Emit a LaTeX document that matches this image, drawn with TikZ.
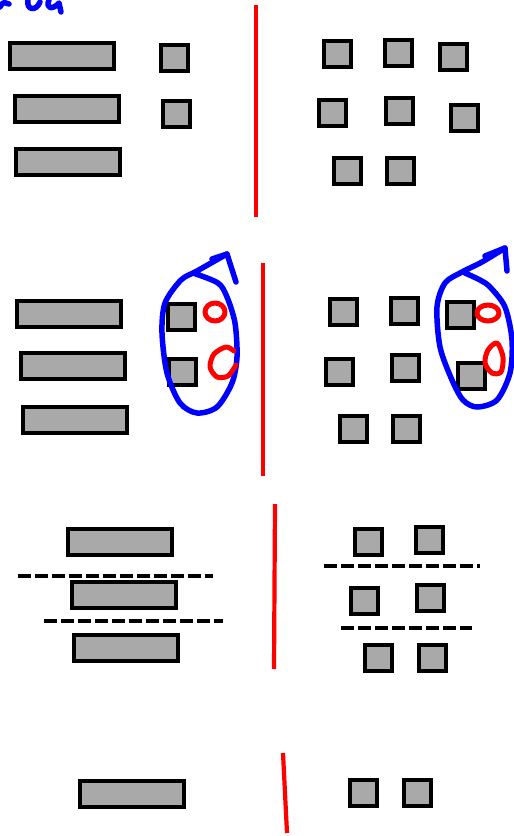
\documentclass[tikz,border=0pt]{standalone}
\usepackage{tikz}
\usetikzlibrary{positioning}
\usepackage{xcolor}
\definecolor{boxgray}{HTML}{A9A9A9}

\begin{document}
\begin{tikzpicture}
      [x=1pt, y=-1pt,
      box style1/.style={draw, line width=4pt, fill=boxgray, minimum width=104pt, minimum height=26pt, inner sep=0pt},
      box style2/.style={draw, line width=4pt, fill=boxgray, minimum width=27pt, minimum height=26pt, inner sep=0pt},
      divider/.style={draw=red, line width=4.2pt},
      cut line/.style={draw, line width=3.8pt, dash pattern=on 13pt off 4pt},
      loop pen/.style={draw=blue, line width=5.5pt, line cap=round, line join=round},
      mark pen/.style={draw=red, line width=5pt, line cap=round, line join=round},
      ]
      \useasboundingbox (0,0) rectangle (514,836);

      % scribble at the top
      \draw[loop pen] (0,7) .. controls (3,2) .. (9,4);
      \draw[loop pen] (28,0) .. controls (26,10) and (36,12) .. (40,2);
      \draw[loop pen] (49,0) .. controls (45,9) and (53,10) .. (59,3) -- (61,12);

      % first row
      \node[box style1] (a1) at (62,56) {};
      \node[box style1] (a2) at (66.5,109) {};
      \node[box style1] (a3) at (68,162) {};
      \node[box style2] (a4) at (174.5,58) {};
      \node[box style2] (a5) at (176,113.5) {};
      \draw[divider] (256,5) -- (256,217);
      \node[box style2] (b1) at (337.5,54) {};
      \node[box style2] (b2) at (398.5,53) {};
      \node[box style2] (b3) at (453.5,57) {};
      \node[box style2] (b4) at (332.5,113) {};
      \node[box style2] (b5) at (399.5,111) {};
      \node[box style2] (b6) at (464.5,118) {};
      \node[box style2] (b7) at (347.5,171) {};
      \node[box style2] (b8) at (400.5,171) {};

      % second row
      \node[box style1] (c1) at (69,314) {};
      \node[box style1] (c2) at (73,366) {};
      \node[box style1] (c3) at (75,420) {};
      \node[box style2] (c4) at (181.5,317) {};
      \node[box style2] (c5) at (182,372) {};
      \draw[divider] (263,263) -- (263,476);
      \node[box style2] (d1) at (343.5,312) {};
      \node[box style2] (d2) at (404.5,311) {};
      \node[box style2] (d3) at (460,315) {};
      \node[box style2] (d4) at (339.5,372) {};
      \node[box style2] (d5) at (405.5,368) {};
      \node[box style2] (d6) at (471.5,376) {};
      \node[box style2] (d7) at (353.5,429) {};
      \node[box style2] (d8) at (406.5,429) {};

      % loops
      \draw[loop pen] plot[smooth] coordinates {(193,273) (218,283) (227,297) (235,323) (237,357) (232,383) (217,407) (197,413) (180,403) (167,373) (162,333) (165,303) (181,280) (197,271) (227,254)};
      \draw[loop pen] (212,259) -- (227,254) -- (236,282);
      \draw[loop pen] plot[smooth] coordinates {(465,273) (480,280) (490,287) (505,307) (512,340) (510,373) (497,400) (477,407) (463,400) (452,380) (440,347) (437,307) (445,283) (462,272) (482,262) (505,248)};
      \draw[loop pen] (485,256) -- (505,248) -- (507,271);
      \draw[mark pen] (215,312) ellipse [x radius=10pt, y radius=9pt];
      \draw[mark pen] plot[smooth] coordinates {(234,351) (226,347) (214,354) (210,367) (217,377) (228,376) (236,365)};
      \draw[mark pen] (488,313) ellipse [x radius=11pt, y radius=8pt];
      \draw[mark pen] plot[smooth cycle] coordinates {(497,343) (488,350) (485,363) (492,373) (501,372) (503,357)};

      % third row
      \node[box style1] (e1) at (120,542) {};
      \node[box style1] (e2) at (124,595) {};
      \node[box style1] (e3) at (126,648) {};
      \draw[cut line] (18,576) -- (213,576);
      \draw[cut line] (44,621) -- (223,621);
      \draw[divider] (275,504) -- (274,669);
      \node[box style2] (f1) at (368.5,542) {};
      \node[box style2] (f2) at (429.5,540) {};
      \node[box style2] (f3) at (364.5,601) {};
      \node[box style2] (f4) at (430.5,598) {};
      \node[box style2] (f5) at (378.5,658) {};
      \node[box style2] (f6) at (432.5,658) {};
      \draw[cut line] (324,566) -- (480,566);
      \draw[cut line] (341,628) -- (472,628);

      % fourth row
      \node[box style1] (g1) at (132,794) {};
      \draw[divider] (283,753) -- (287,833);
      \node[box style2] (h1) at (363.5,793) {};
      \node[box style2] (h2) at (417.5,793) {};
\end{tikzpicture}
\end{document}
